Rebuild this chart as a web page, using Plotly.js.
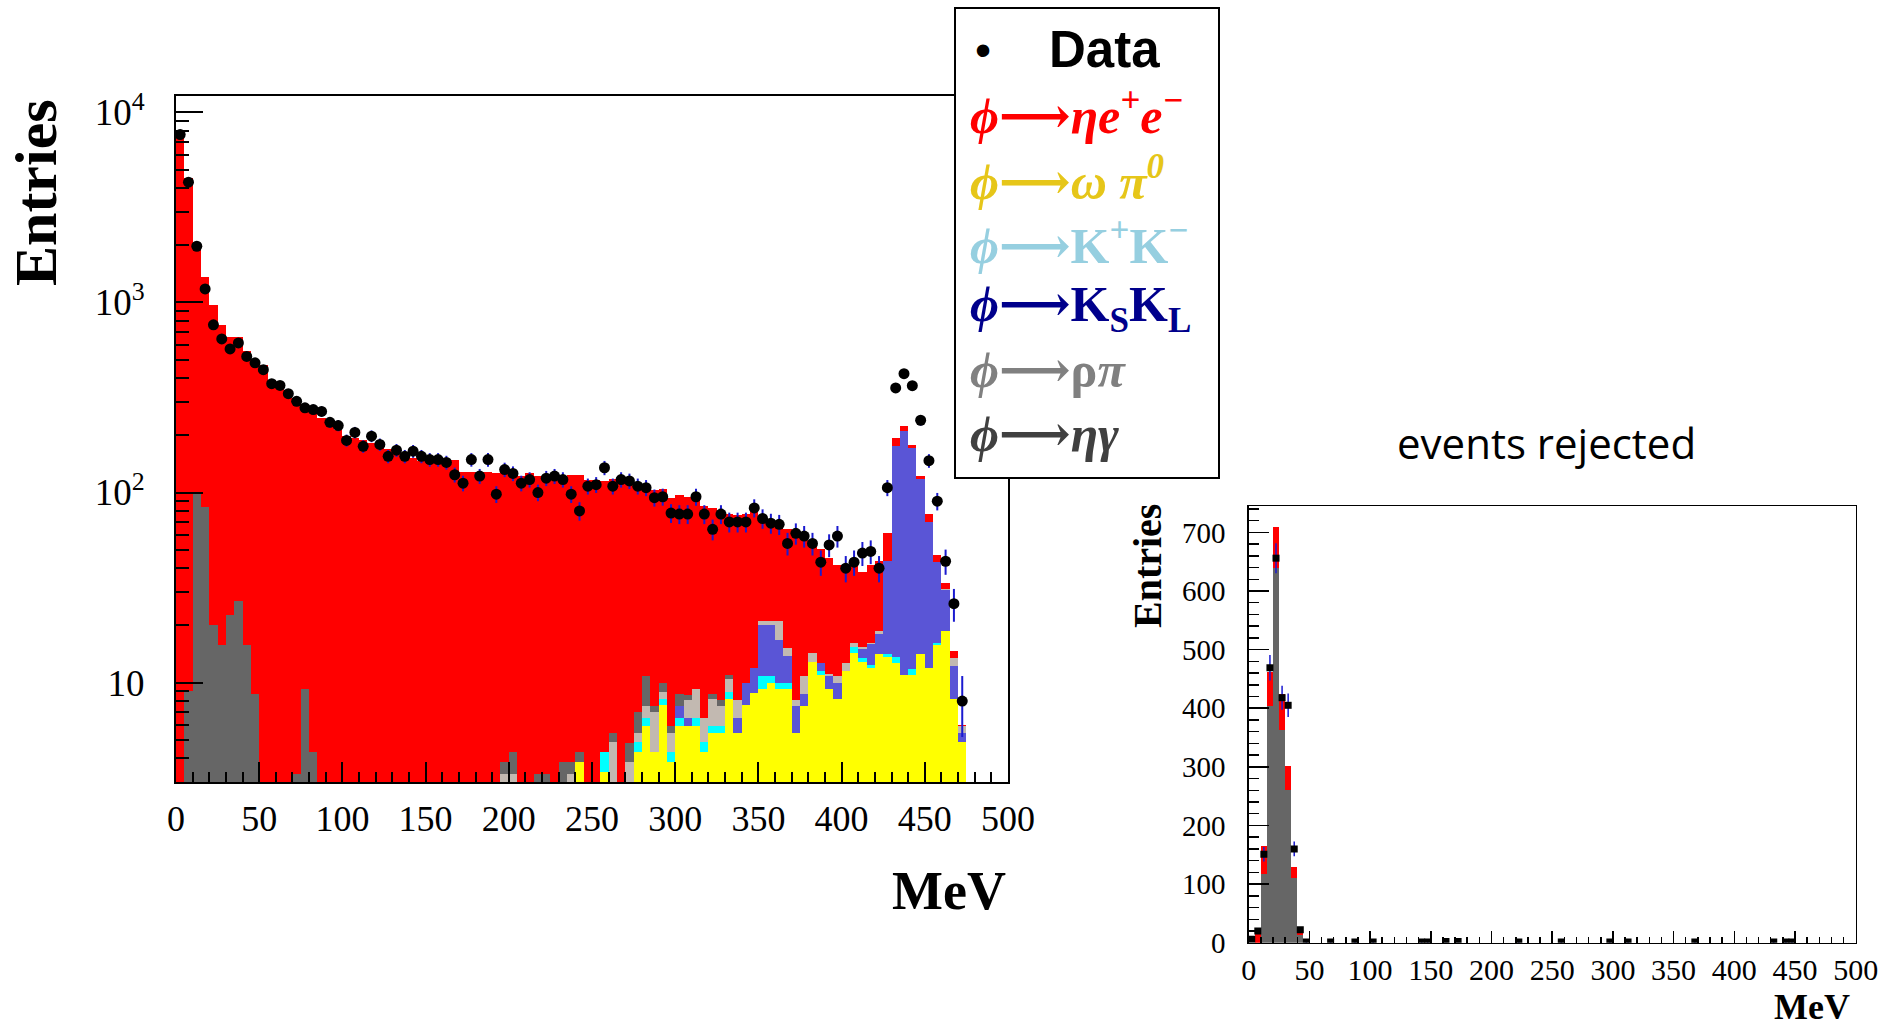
<!DOCTYPE html>
<html><head><meta charset="utf-8">
<script src="https://cdn.plot.ly/plotly-3.0.1.min.js"></script>
<style>html,body{margin:0;padding:0;background:#fff;}#chart{width:1889px;height:1027px;}</style>
</head><body><div id="chart"></div>
<script>
// ---------- data (5 MeV bins, 0-500 MeV) ----------
const binCenters = [
2.5,7.5,12.5,17.5,22.5,27.5,32.5,37.5,42.5,47.5,
52.5,57.5,62.5,67.5,72.5,77.5,82.5,87.5,92.5,97.5,
102.5,107.5,112.5,117.5,122.5,127.5,132.5,137.5,142.5,147.5,
152.5,157.5,162.5,167.5,172.5,177.5,182.5,187.5,192.5,197.5,
202.5,207.5,212.5,217.5,222.5,227.5,232.5,237.5,242.5,247.5,
252.5,257.5,262.5,267.5,272.5,277.5,282.5,287.5,292.5,297.5,
302.5,307.5,312.5,317.5,322.5,327.5,332.5,337.5,342.5,347.5,
352.5,357.5,362.5,367.5,372.5,377.5,382.5,387.5,392.5,397.5,
402.5,407.5,412.5,417.5,422.5,427.5,432.5,437.5,442.5,447.5,
452.5,457.5,462.5,467.5,472.5,477.5,482.5,487.5,492.5,497.5];

const omegaPi0 = [
0,0,0,0,0,0,0,0,0,0, 0,0,0,0,0,0,0,0,0,0, 0,0,0,0,0,0,0,0,0,0, 0,0,0,0,0,0,0,0,0,0,
0,0,0,0,0,0,0,0,3.8,0,
0,3.4,0,0,0,4.3,5.9,4.3,7.6,3.8,
5.9,5.9,5.9,4.3,5.4,5.4,8.2,5.4,7.6,8.8,
9.2,9.9,9.2,9.2,5.4,7.5,12.9,10.9,9.2,8.2,
11.5,14.4,12.9,11.9,14.1,13.7,12.7,10.9,10.9,14.1,
11.9,15.8,18.6,8.2,4.9,0,0,0,0,0];

const kPlusKMinus = [
0,0,0,0,0,0,0,0,0,0, 0,0,0,0,0,0,0,0,0,0, 0,0,0,0,0,0,0,0,0,0, 0,0,0,0,0,0,0,0,0,0,
0,0,0,0,0,0,0,0,0,0,
0,0.9,0,0,0,0.55,0.6,0,0.6,0.5,
0.6,0,0.6,0.55,0.5,0.5,0.7,0,0,0,
1.6,0.9,0.7,0.7,0,0,0,0.6,0,0,
0,1.0,0.6,0.5,0,0.4,0.9,0,0.9,0,
0,0.3,0,0,0,0,0,0,0,0];

const kSkL = [
0,0,0,0,0,0,0,0,0,0, 0,0,0,0,0,0,0,0,0,0, 0,0,0,0,0,0,0,0,0,0, 0,0,0,0,0,0,0,0,0,0,
0,0,0,0,0,0,0,0,0,0,
0,0,0,0,0,0,0,0,0,0,
1.0,0.6,0,0,0,0,0,1.1,2.3,3.1,
9.4,9.4,6.9,3.9,2.1,1.2,0,1.2,1.6,1.7,
0,0,1.5,3.5,3.9,29.4,163,199,160,103,
58,27,12,4.0,0.55,0,0,0,0,0];

const rhoPi = [
0,0,0,0,0,0,0,0,0,0, 0,0,0,0,0,0,0,0,0,0, 0,0,0,0,0,0,0,0,0,0,
0,0,0,0,0,0,0,0,0,3.3,
3.3,0,0,0,0,0,0,3.3,0,0,
0,0,4.9,0,3.8,0.55,1.0,2.7,0.7,1.1,
0,1.6,2.7,1.7,2.3,1.6,1.6,1.6,0,0,
0.8,0.8,4.2,1.5,0.65,2.1,1.5,0,0.3,0.9,
1.2,0.7,0.4,0.3,0.6,0,0,0,0,0,
0,0,0.5,1.3,0.45,0,0,0,0,0];

const etaGamma = [
0,9,101,84,20,15.7,22.6,26.8,15.7,8.7,
0,0,0,0,3.3,9.2,4.3,0,0,0,
0,0,0,0,0,0,0,0,0,0,
0,0,0,0,0,0,0,0,0,0.5,
1.0,0,0,3.3,3.3,0,3.8,0.5,0.5,0,
0,0,0.5,0,1.0,1.6,3.3,0.5,1.0,0.5,
1.2,0.5,0,0,0.5,0.6,0.4,0,0,0,
0,0,0,0,0,0,0,0,0,0, 0,0,0,0,0,0,0,0,0,0, 0,0,0,0,0,0,0,0,0,0];

const etaEE = [
7850,4511,1955,1277,951,746,636,632,537,496,
471,393,377,347,312,281,280,247,242,214,
198,194,190,182,172,170,165,158,152,146,
144,144,144,149,129,129,129,129,126,124,
124,122,126,119,119,122,115,120,120,117,
117,111,112,117,110,101,97,96,94,88,
88,86,85,78,74,70,66,68,67,73,
54,51,48,49,53,49,40,38,34,31,
29,27,22.6,25.6,24.9,17.8,17,15,7,5,
7,3.6,2.3,1.1,0.1,0,0,0,0,0];

const dataCounts = [
7640,4290,1975,1178,762,643,569,612,520,481,
443,374,366,331,302,279,273,267,234,225,
188,207,175,198,179,155,167,155,165,155,
149,149,144,124,112,149,122,149,98,132,
126,112,117,100,119,122,117,98,80,108,
110,135,108,117,115,108,106,94,95,78,
77,77,95,77,64,77,70,70,70,83,
73,69,68,54,61,59,54,43,53,59,
40,43,48,49,40,106,355,422,365,240,
147,90,43.5,26,8,null,null,null,null,null];

// events rejected
const rejBins     = [2.5,7.5,12.5,17.5,22.5,27.5,32.5,37.5,42.5,47.5];
const rejEtaGamma = [0,0,118,403,639,363,260,110,13,0];
const rejEtaEE    = [0,19,47,58,71,62,42,20,3,0];
const rejDataX = [2.5,7.5,12.5,17.5,22.5,27.5,32.5,37.5,42.5,47.5,67.5,87.5,102.5,142.5,147.5,162.5,172.5,222.5,257.5,297.5,312.5,367.5,432.5,442.5,447.5];
const rejDataY = [6,20,151,469,656,418,405,160,22,1,1,1,1,1,1,2,2,1,1,1,1,1,1,1,1];

const xTickVals = [0,50,100,150,200,250,300,350,400,450,500];
const logTickVals = [10,100,1000,10000];
const logTickText = ['10','10<sup>2</sup>','10<sup>3</sup>','10<sup>4</sup>'];
const logMinorVals = [3,4,5,6,7,8,9,20,30,40,50,60,70,80,90,200,300,400,500,600,700,800,900,2000,3000,4000,5000,6000,7000,8000,9000];

const legendLabels = [
  {text:'<b><i>ϕ</i>⟶<i>ηe<sup>+</sup>e<sup>−</sup></i></b>', color:'#ff0000'},
  {text:'<b><i>ϕ</i>⟶<i>ω π<sup>0</sup></i></b>', color:'#e6c619'},
  {text:'<b><i>ϕ</i>⟶K<sup>+</sup>K<sup>−</sup></b>', color:'#96cfe0'},
  {text:'<b><i>ϕ</i>⟶K<sub>S</sub>K<sub>L</sub></b>', color:'#00008c'},
  {text:'<b><i>ϕ</i>⟶ρ<i>π</i></b>', color:'#808080'},
  {text:'<b><i>ϕ</i>⟶<i>ηγ</i></b>', color:'#404040'}
];

// ---------- figure ----------
const W = 1889, H = 1027;
const px = v => v / W;
const py = v => 1 - v / H;
const serif = 'Liberation Serif, Times New Roman, serif';
const sans = 'Liberation Sans, Arial, sans-serif';

function bar(y, color, xa, ya, xs) {
  return {type:'bar', x: xs || binCenters, y: y, width: 5, xaxis: xa, yaxis: ya,
    marker:{color: color, line:{width:0}}, hoverinfo:'skip', showlegend:false};
}

const traces = [
  bar(omegaPi0, '#ffff00', 'x', 'y'),
  bar(kPlusKMinus, '#00ffff', 'x', 'y'),
  bar(kSkL, '#5a55d6', 'x', 'y'),
  bar(rhoPi, '#c2b9b1', 'x', 'y'),
  bar(etaGamma, '#666666', 'x', 'y'),
  bar(etaEE, '#ff0000', 'x', 'y'),
  {type:'scatter', mode:'markers', x: binCenters, y: dataCounts, xaxis:'x', yaxis:'y',
   marker:{color:'#000', size:11, symbol:'circle'},
   error_y:{type:'sqrt', color:'#1a1ad0', thickness:2, width:0},
   hoverinfo:'skip', showlegend:false},
  bar(rejEtaGamma, '#666666', 'x2', 'y2', rejBins),
  bar(rejEtaEE, '#ff0000', 'x2', 'y2', rejBins),
  {type:'scatter', mode:'markers', x: rejDataX, y: rejDataY, xaxis:'x2', yaxis:'y2',
   marker:{color:'#000', size:7, symbol:'square'},
   error_y:{type:'sqrt', color:'#1a1ad0', thickness:1.5, width:0},
   hoverinfo:'skip', showlegend:false}
];

const axCommon = {showline:true, mirror:true, linecolor:'#000', zeroline:false, showgrid:false,
  ticks:'inside', tickcolor:'#000', fixedrange:true};

const annotations = [
  {text:'<b>Entries</b>', x:px(36), y:py(193), xref:'paper', yref:'paper', showarrow:false,
   xanchor:'center', yanchor:'middle', textangle:-90, font:{family:serif, size:60, color:'#000'}},
  {text:'<b>MeV</b>', x:px(1008), y:py(891), xref:'paper', yref:'paper', showarrow:false,
   xanchor:'right', yanchor:'middle', font:{family:serif, size:54, color:'#000'}},
  {text:'<b>Entries</b>', x:px(1147), y:py(566), xref:'paper', yref:'paper', showarrow:false,
   xanchor:'center', yanchor:'middle', textangle:-90, font:{family:serif, size:40, color:'#000'}},
  {text:'<b>MeV</b>', x:px(1852), y:py(1007), xref:'paper', yref:'paper', showarrow:false,
   xanchor:'right', yanchor:'middle', font:{family:serif, size:36, color:'#000'}},
  {text:'events rejected', x:px(1546), y:py(442), xref:'paper', yref:'paper', showarrow:false,
   xanchor:'center', yanchor:'middle', font:{family:'Open Sans, sans-serif', size:42, color:'#000'}},
  {text:'•', x:px(983), y:py(50), xref:'paper', yref:'paper', showarrow:false,
   xanchor:'center', yanchor:'middle', font:{family:sans, size:46, color:'#000'}},
  {text:'<b>Data</b>', x:px(1047), y:py(50), xref:'paper', yref:'paper', showarrow:false,
   xanchor:'left', yanchor:'middle', font:{family:sans, size:51, color:'#000'}}
];
const legendY = [113, 178, 242, 308, 370, 434];
legendLabels.forEach((l, i) => {
  annotations.push({text:l.text, x:px(968), y:py(legendY[i]), xref:'paper', yref:'paper', showarrow:false,
    xanchor:'left', yanchor:'middle', font:{family:'Liberation Serif, DejaVu Serif, serif', size:50, color:l.color}});
});

const layout = {
  width: W, height: H, margin:{l:0, r:0, t:0, b:0},
  paper_bgcolor:'#fff', plot_bgcolor:'#fff',
  barmode:'stack', bargap:0, showlegend:false,
  xaxis: Object.assign({}, axCommon, {domain:[px(176), px(1008)], anchor:'y', range:[0,500],
    tickmode:'array', tickvals:xTickVals, ticklen:20, tickwidth:2, linewidth:2,
    ticklabelstandoff:4, tickfont:{family:serif, size:36, color:'#000'},
    minor:{dtick:10, tick0:0, ticks:'inside', ticklen:10, tickwidth:2, tickcolor:'#000', showgrid:false}}),
  yaxis: Object.assign({}, axCommon, {domain:[1-782/H, 1-96/H], anchor:'x', type:'log',
    range:[Math.log10(3), 4.086], tickmode:'array', tickvals:logTickVals, ticktext:logTickText,
    ticklen:27, tickwidth:2, linewidth:2, ticklabelstandoff:22,
    tickfont:{family:serif, size:37, color:'#000'},
    minor:{tickmode:'array', tickvals:logMinorVals, ticks:'inside', ticklen:13, tickwidth:2, tickcolor:'#000', showgrid:false}}),
  xaxis2: Object.assign({}, axCommon, {domain:[px(1248.7), px(1855.7)], anchor:'y2', range:[0,500],
    tickmode:'array', tickvals:xTickVals, ticklen:12, tickwidth:1.5, linewidth:1.5,
    ticklabelstandoff:0, tickfont:{family:serif, size:30, color:'#000'},
    minor:{dtick:10, tick0:0, ticks:'inside', ticklen:6, tickwidth:1.5, tickcolor:'#000', showgrid:false}}),
  yaxis2: Object.assign({}, axCommon, {domain:[1-942.7/H, 1-506/H], anchor:'x2', range:[0,745],
    tickmode:'linear', tick0:0, dtick:100, ticklen:20, tickwidth:1.5, linewidth:1.5,
    ticklabelstandoff:16, tickfont:{family:serif, size:29, color:'#000'},
    minor:{dtick:20, tick0:0, ticks:'inside', ticklen:10, tickwidth:1.5, tickcolor:'#000', showgrid:false}}),
  shapes: [
    {type:'rect', xref:'paper', yref:'paper', x0:px(955), x1:px(1219), y0:py(478), y1:py(8),
     fillcolor:'#fff', line:{color:'#000', width:2}, layer:'above'}
  ],
  annotations: annotations
};

Plotly.newPlot('chart', traces, layout, {staticPlot:true, displayModeBar:false});
</script>
</body></html>
